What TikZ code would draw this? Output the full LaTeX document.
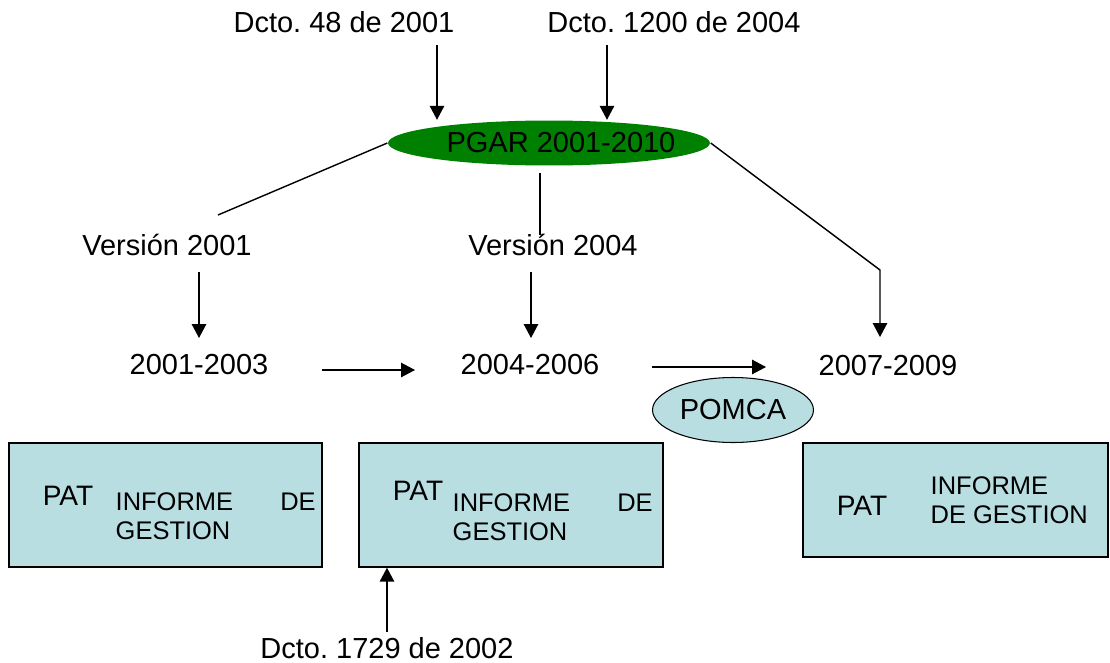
\documentclass[tikz,border=0pt]{standalone}
\usepackage{fontspec}
\setmainfont{Liberation Sans}
\usetikzlibrary{arrows.meta,positioning,shapes}

\definecolor{pgargreen}{RGB}{0,128,0}
\definecolor{patblue}{RGB}{185,222,226}
\frenchspacing

\begin{document}
\begin{tikzpicture}[x=0.02cm,y=-0.02cm,->,>={Triangle[length=2.8mm,width=2.9mm]},line width=0.8pt]
\tikzstyle{every node}=[inner sep=0pt,font=\fontsize{16.5}{19}\selectfont]
\tikzstyle{lbl}=[anchor=base]
\tikzstyle{pgar}=[ellipse,fill=pgargreen,minimum width=6.44cm,minimum height=0.9cm]
\tikzstyle{pomca}=[ellipse,draw,line width=0.6pt,fill=patblue,minimum width=3.22cm,minimum height=1.3cm]
\tikzstyle{patbox}=[rectangle,draw,fill=patblue,minimum height=2.48cm]
\tikzstyle{pat}=[anchor=base,font=\fontsize{16}{19}\selectfont]
\tikzstyle{informe}=[anchor=north west,align=left,font=\fontsize{14.5}{16.5}\selectfont]

\useasboundingbox (0,0) rectangle (1110,663);

%\node[lbl] (top) at (555,0) {};
\node[lbl]          (d48)   at (344,32)  {Dcto. 48 de 2001};
\node[lbl]          (d1200) at (674,32)  {Dcto. 1200 de 2004};
\node[pgar]         (pgar)  at (549,143) {};
\node               (pgartxt) [right=0.24cm of pgar.center,anchor=center] {PGAR 2001-2010};
\node[lbl]          (v01)   at (167,255) {Versión 2001};
\node[lbl]          (v04)   at (553,255) {Versión 2004};
\node[lbl]          (p0103) at (199,374) {2001-2003};
\node[lbl]          (p0406) at (530,374) {2004-2006};
\node[lbl]          (p0709) at (888,375) {2007-2009};
\node[pomca]        (pomca) at (733,410) {POMCA};

\node[patbox,minimum width=6.26cm] (box1) at (165.5,505) {};
\node[patbox,minimum width=6.08cm] (box2) at (511,505) {};
\node[patbox,minimum width=6.1cm,minimum height=2.28cm] (box3) at (955.5,500) {};
\node[pat]          (pat1)  at (68,505)  {PAT};
\node[informe,text width=4cm] (inf1) at (115,492) {INFORME\hfill DE\\GESTION};
\node[pat]          (pat2)  at (418,500) {PAT};
\node[informe,text width=4cm] (inf2) at (452,493) {INFORME\hfill DE\\GESTION};
\node[pat]          (pat3)  at (862,515) {PAT};
\node[informe]      (inf3)  at (930,476) {INFORME\\DE GESTION};
\node[lbl]          (d1729) at (387,658) {Dcto. 1729 de 2002};

\coordinate (t48)   at (437,45);
\coordinate (t1200) at (607,45);
\coordinate (l01)   at (218,215);
\coordinate (m04a)  at (540,173);
\coordinate (m04b)  at (540,235);
\coordinate (bend)  at (880,270);
\coordinate (in0709) at (880,337);
\coordinate (a01)   at (199,272);
\coordinate (a04)   at (531,272);
\coordinate (h1)    at (322,370);
\coordinate (h2)    at (415,370);
\coordinate (h3)    at (652,367);
\coordinate (h4)    at (766,367);
\coordinate (u1729) at (387,632);

\draw (t48) -- (t48 |- pgar.north);
\draw (t1200) -- (t1200 |- pgar.north);
\draw[-] (pgar.west) -- (l01);
\draw[-] (m04a) -- (m04b);
\draw (pgar.east) -- (bend) -- (in0709);
\draw (a01) -- ++(0,66);
\draw (a04) -- ++(0,66);
\draw (h1) -- (h2);
\draw (h3) -- (h4);
\draw (u1729) -- (u1729 |- box2.south);

\end{tikzpicture}
\end{document}
